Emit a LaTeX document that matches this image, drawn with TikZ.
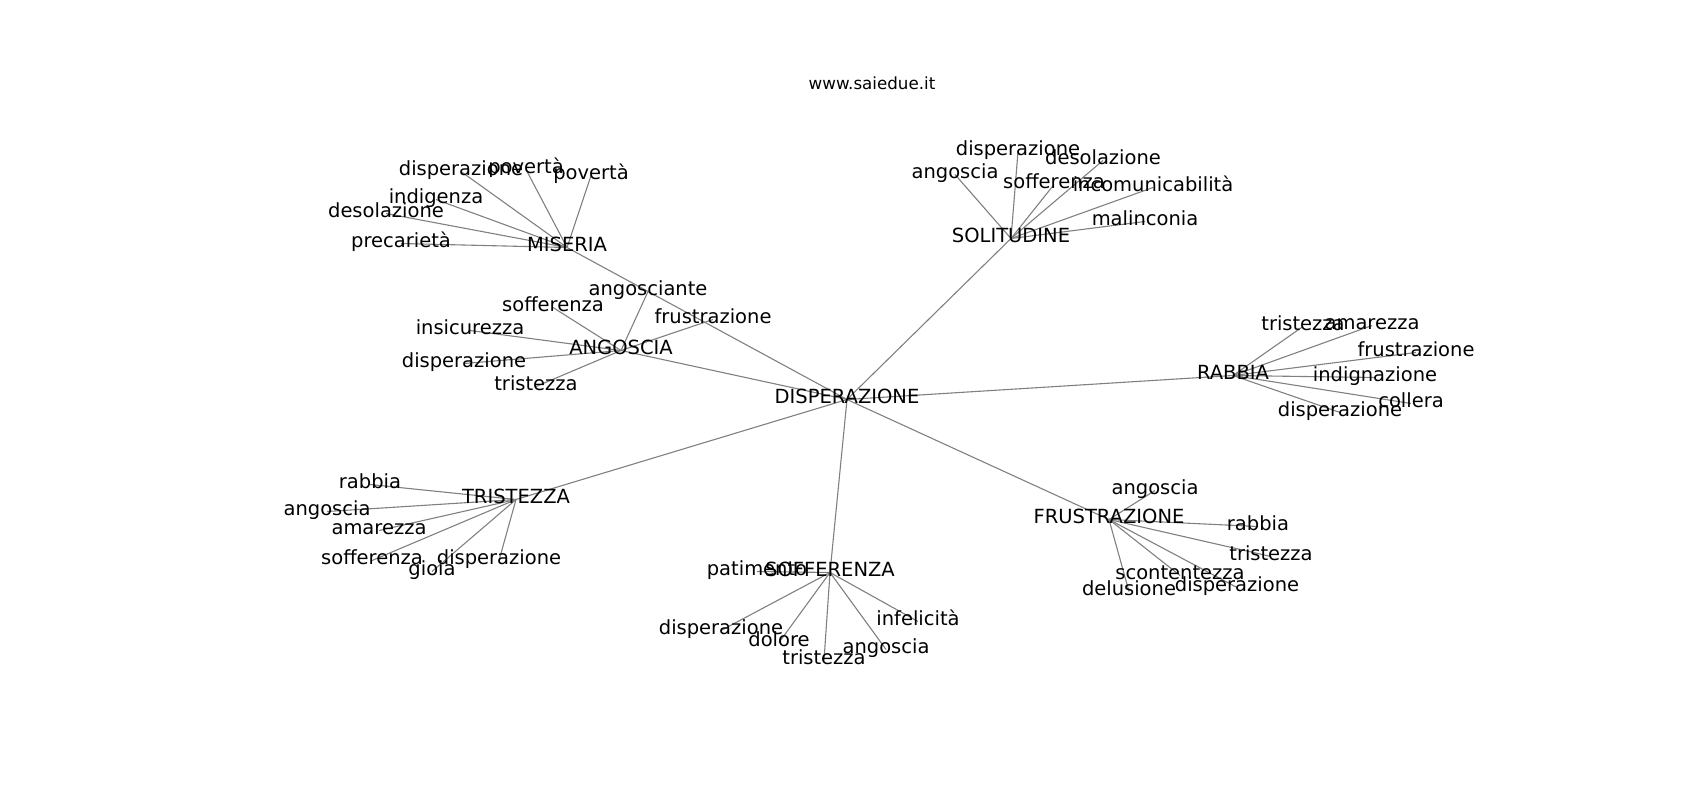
\documentclass[tikz,border=0pt]{standalone}
\usepackage{fontspec}
\setmainfont{DejaVu Sans}
\usetikzlibrary{backgrounds}
\definecolor{edgegray}{RGB}{128,128,128}
\tikzset{
  lbl/.style={inner sep=0pt, anchor=center, text height=0.73em, text depth=0pt,
              font=\fontsize{19.5}{23}\selectfont},
  ttl/.style={inner sep=0pt, anchor=center, text height=0.73em, text depth=0pt,
              font=\fontsize{16.7}{20}\selectfont},
  link/.style={draw=edgegray, line width=1.1pt}
}
\begin{document}
\begin{tikzpicture}[x=1pt,y=-1pt]
\useasboundingbox (0,0) rectangle (1700,800);
\begin{scope}[yshift=-3.5pt]
\node[ttl] (title) at (872,82) {www.saiedue.it};
% hubs
\node[lbl] (D)   at (847,396) {DISPERAZIONE};
\node[lbl] (MIS) at (567,244) {MISERIA};
\node[lbl] (ANG) at (621,347) {ANGOSCIA};
\node[lbl] (SOL) at (1011,235) {SOLITUDINE};
\node[lbl] (RAB) at (1233,372) {RABBIA};
\node[lbl] (TRI) at (516,496) {TRISTEZZA};
\node[lbl] (SOF) at (830,569) {SOFFERENZA};
\node[lbl] (FRU) at (1109,516) {FRUSTRAZIONE};
% MISERIA leaves
\node[lbl] (m1) at (461,168) {disperazione};
\node[lbl] (m2) at (526,166) {povertà};
\node[lbl] (m3) at (591,172) {povertà};
\node[lbl] (m4) at (436,196) {indigenza};
\node[lbl] (m5) at (386,210) {desolazione};
\node[lbl] (m6) at (401,240) {precarietà};
% ANGOSCIA leaves
\node[lbl] (a1) at (648,288) {angosciante};
\node[lbl] (a2) at (553,304) {sofferenza};
\node[lbl] (a3) at (470,327) {insicurezza};
\node[lbl] (a4) at (464,360) {disperazione};
\node[lbl] (a5) at (536,383) {tristezza};
\node[lbl] (a6) at (713,316) {frustrazione};
% SOLITUDINE leaves
\node[lbl] (s1) at (955,171) {angoscia};
\node[lbl] (s2) at (1018,148) {disperazione};
\node[lbl] (s3) at (1054,181) {sofferenza};
\node[lbl] (s4) at (1103,157) {desolazione};
\node[lbl] (s5) at (1153,184) {incomunicabilità};
\node[lbl] (s6) at (1145,218) {malinconia};
% RABBIA leaves
\node[lbl] (r1) at (1303,323) {tristezza};
\node[lbl] (r2) at (1372,322) {amarezza};
\node[lbl] (r3) at (1416,349) {frustrazione};
\node[lbl] (r4) at (1375,374) {indignazione};
\node[lbl] (r5) at (1411,400) {collera};
\node[lbl] (r6) at (1340,409) {disperazione};
% TRISTEZZA leaves
\node[lbl] (t1) at (370,481) {rabbia};
\node[lbl] (t2) at (327,508) {angoscia};
\node[lbl] (t3) at (379,527) {amarezza};
\node[lbl] (t4) at (372,557) {sofferenza};
\node[lbl] (t5) at (432,568) {gioia};
\node[lbl] (t6) at (499,557) {disperazione};
% SOFFERENZA leaves
\node[lbl] (f1) at (757,568) {patimento};
\node[lbl] (f2) at (721,627) {disperazione};
\node[lbl] (f3) at (779,639) {dolore};
\node[lbl] (f4) at (824,657) {tristezza};
\node[lbl] (f5) at (886,646) {angoscia};
\node[lbl] (f6) at (918,618) {infelicità};
% FRUSTRAZIONE leaves
\node[lbl] (u1) at (1155,487) {angoscia};
\node[lbl] (u2) at (1258,523) {rabbia};
\node[lbl] (u3) at (1271,553) {tristezza};
\node[lbl] (u4) at (1180,572) {scontentezza};
\node[lbl] (u5) at (1237,584) {disperazione};
\node[lbl] (u6) at (1129,588) {delusione};
\begin{scope}[on background layer]
\foreach \h in {MIS,ANG,SOL,RAB,TRI,SOF,FRU}
  \draw[link] (D.center) -- (\h.center);
\foreach \l in {m1,m2,m3,m4,m5,m6}
  \draw[link] (MIS.center) -- (\l.center);
\foreach \l in {a1,a2,a3,a4,a5,a6}
  \draw[link] (ANG.center) -- (\l.center);
\foreach \l in {s1,s2,s3,s4,s5,s6}
  \draw[link] (SOL.center) -- (\l.center);
\foreach \l in {r1,r2,r3,r4,r5,r6}
  \draw[link] (RAB.center) -- (\l.center);
\foreach \l in {t1,t2,t3,t4,t5,t6}
  \draw[link] (TRI.center) -- (\l.center);
\foreach \l in {f1,f2,f3,f4,f5,f6}
  \draw[link] (SOF.center) -- (\l.center);
\foreach \l in {u1,u2,u3,u4,u5,u6}
  \draw[link] (FRU.center) -- (\l.center);
\end{scope}
\end{scope}
\end{tikzpicture}
\end{document}
